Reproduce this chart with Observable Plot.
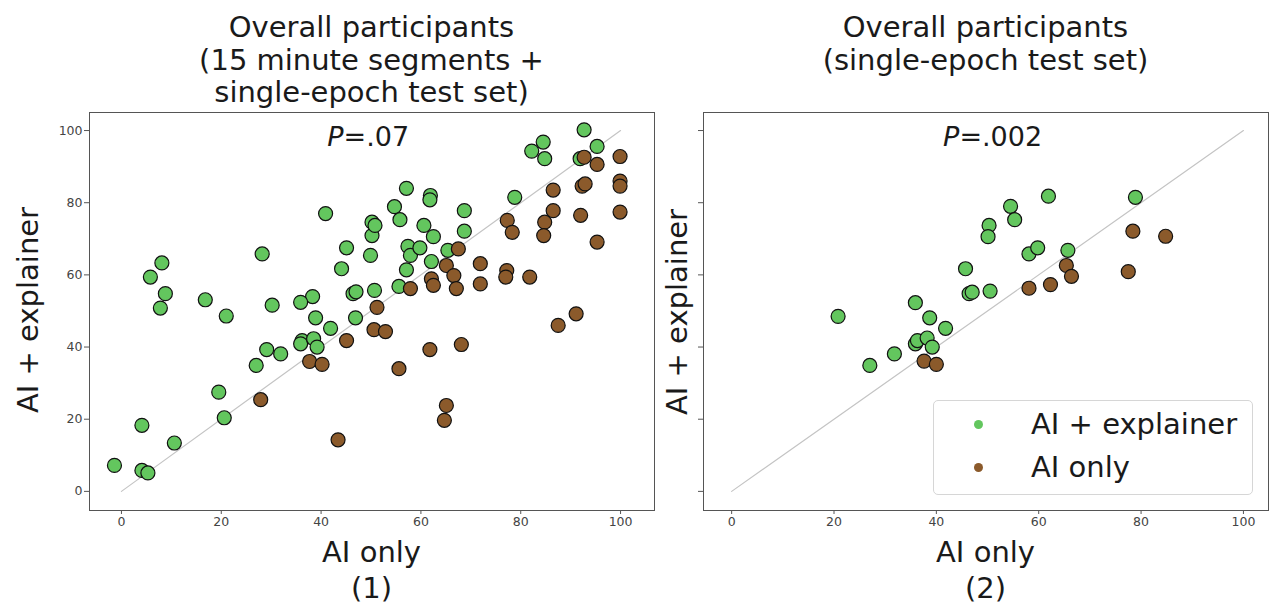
<!DOCTYPE html>
<html><head><meta charset="utf-8">
<script src="https://cdn.jsdelivr.net/npm/d3@7"></script>
<script src="https://cdn.jsdelivr.net/npm/@observablehq/plot@0.6"></script>
<style>
body{margin:0;background:#fff;font-family:"DejaVu Sans",sans-serif;}
#wrap{position:relative;width:1275px;height:605px;overflow:hidden;background:#fff;}
.lbl{position:absolute;white-space:nowrap;color:#1a1a1a;font-size:29px;line-height:29px;transform:translate(-50%,-50%);}
.rot{transform:translate(-50%,-50%) rotate(-90deg);}
.panel{position:absolute;top:0;}
#legend{position:absolute;left:933px;top:400px;width:320px;height:95px;box-sizing:border-box;border:1px solid #d6d6d6;border-radius:5px;background:rgba(255,255,255,0.85);}
.li{position:absolute;left:0;font-size:29px;line-height:29px;color:#1a1a1a;white-space:nowrap;}
.sw{position:absolute;width:9px;height:9px;border-radius:50%;}
</style></head><body><div id="wrap"></div>
<script>
// ---------- data ----------
const tickValues = [0, 20, 40, 60, 80, 100];
const seriesNames = ["AI + explainer", "AI only"];
const seriesColors = ["#63C65E", "#8B5A2B"];
const panelTitles = [["Overall participants", "(15 minute segments +", "single-epoch test set)"], ["Overall participants", "(single-epoch test set)"]];
const panelTags = ["(1)", "(2)"];
const pValues = [".07", ".002"];

// Panel 1: [AI only, AI + explainer]
const p1Explainer = [
  [40.9,77.0],[28.2,65.8],[8.1,63.3],[5.8,59.4],[8.8,54.8],[7.8,50.8],[16.8,53.1],[45.1,67.5],
  [44.1,61.7],[49.9,65.4],[50.2,70.9],[50.2,74.6],[50.8,73.7],[46.4,54.8],[47.0,55.3],[50.7,55.7],
  [38.3,54.0],[35.9,52.4],[30.2,51.6],[92.7,100.2],[84.5,96.8],[82.2,94.3],[84.8,92.2],[95.3,95.6],
  [91.9,92.2],[78.8,81.5],[57.1,84.0],[61.9,82.0],[61.8,80.8],[54.7,78.9],[55.8,75.3],[68.7,77.8],
  [68.7,72.1],[60.6,73.7],[62.5,70.6],[57.4,67.9],[57.9,65.4],[59.8,67.5],[62.1,63.7],[65.4,66.8],
  [57.1,61.4],[55.6,56.8],[21.0,48.6],[38.9,48.1],[41.9,45.2],[46.9,48.1],[36.2,41.8],[35.9,40.9],
  [38.5,42.3],[39.2,40.0],[29.1,39.3],[31.9,38.1],[27.0,34.9],[19.5,27.5],[20.6,20.4],[4.1,18.3],
  [10.6,13.4],[-1.4,7.2],[4.1,5.8],[5.3,5.1]
];
const p1Only = [
  [92.7,92.6],[95.3,90.6],[99.9,92.8],[99.9,86.0],[99.9,84.6],[92.3,84.6],[92.9,85.2],[86.5,83.5],
  [86.5,77.8],[92.0,76.5],[99.9,77.4],[95.3,69.1],[84.8,74.6],[84.6,70.9],[77.3,75.1],[78.3,71.8],
  [67.5,67.2],[65.1,62.6],[66.6,59.8],[62.1,58.9],[62.5,57.1],[67.1,56.2],[71.9,63.1],[71.9,57.5],
  [77.2,61.2],[77.0,59.4],[81.8,59.4],[57.9,56.2],[51.2,51.0],[50.6,44.8],[52.9,44.3],[45.1,41.8],
  [37.7,36.0],[40.2,35.2],[27.9,25.4],[43.4,14.3],[61.8,39.3],[68.1,40.7],[55.6,34.0],[65.1,23.8],
  [64.7,19.7],[87.5,46.0],[91.1,49.2]
];
// Panel 2
const p2Explainer = [
  [20.8,48.5],[27.0,34.9],[31.8,38.1],[35.9,52.3],[35.9,40.9],[36.3,41.8],[38.7,48.1],[38.2,42.5],
  [39.2,40.0],[41.8,45.2],[45.7,61.7],[46.4,54.8],[47.0,55.2],[50.3,73.7],[50.1,70.6],[50.5,55.5],
  [54.5,79.0],[55.3,75.3],[61.9,81.8],[78.9,81.5],[58.1,65.8],[59.8,67.5],[65.7,66.8]
];
const p2Only = [
  [37.6,36.1],[40.0,35.2],[65.4,62.6],[66.4,59.6],[58.1,56.3],[62.3,57.3],[78.4,72.1],[84.8,70.7],[77.5,60.9]
];
const diagonal = [0, 100];

// ---------- drawing ----------
const wrap = document.getElementById("wrap");

function panel({expl, only, width, mL, mR, xDomain, yLabels, pText}) {
  return Plot.plot({
    width, height: 560,
    marginLeft: mL, marginRight: mR, marginTop: 112, marginBottom: 50,
    x: {domain: xDomain, label: null},
    y: {domain: [-5.3, 105], label: null},
    style: {fontFamily: "DejaVu Sans", background: "transparent", color: "#333"},
    marks: [
      Plot.axisX({ticks: tickValues, tickSize: 4, tickPadding: 3, fontSize: 12.5, fill: "#444", stroke: "#555"}),
      Plot.axisY({ticks: tickValues, tickSize: 5, tickPadding: 2, fontSize: 12.5, fill: "#444", stroke: "#555",
                  tickFormat: yLabels ? (d => String(d)) : (() => "")}),
      Plot.line(diagonal, {x: d => d, y: d => d, stroke: "#c4c4c4", strokeWidth: 1.2}),
      Plot.dot(expl, {x: d => d[0], y: d => d[1], r: 7, fill: seriesColors[0], stroke: "#111", strokeWidth: 1.2}),
      Plot.dot(only, {x: d => d[0], y: d => d[1], r: 7, fill: seriesColors[1], stroke: "#111", strokeWidth: 1.2}),
      Plot.text(["P"], {x: () => 44.5, y: () => 98, text: d => d, textAnchor: "end", fontStyle: "italic", fontSize: 27, fill: "#1a1a1a"}),
      Plot.text([pText], {x: () => 44.5, y: () => 98, text: d => "=" + d, textAnchor: "start", fontSize: 27, fill: "#1a1a1a"}),
      Plot.frame({stroke: "#555", strokeWidth: 1})
    ]
  });
}

const left = document.createElement("div");
left.className = "panel"; left.style.left = "0px";
left.appendChild(panel({expl: p1Explainer, only: p1Only, width: 680, mL: 89, mR: 26, xDomain: [-6.4, 106.8], yLabels: true, pText: pValues[0]}));
wrap.appendChild(left);

const right = document.createElement("div");
right.className = "panel"; right.style.left = "680px";
right.appendChild(panel({expl: p2Explainer, only: p2Only, width: 595, mL: 23, mR: 7, xDomain: [-5.5, 104.9], yLabels: false, pText: pValues[1]}));
wrap.appendChild(right);

function label(text, cx, cy, rot) {
  const d = document.createElement("div");
  d.className = "lbl" + (rot ? " rot" : "");
  d.textContent = text;
  d.style.left = cx + "px"; d.style.top = cy + "px";
  wrap.appendChild(d);
}
const titleRows = [27, 59.5, 91.5];
const centers = [371.5, 985.5];
panelTitles.forEach((lines, i) => lines.forEach((t, j) => label(t, centers[i], titleRows[j])));
centers.forEach((cx, i) => { label("AI only", cx, 552); label(panelTags[i], cx, 588); });
label("AI + explainer", 27.5, 310, true);
label("AI + explainer", 676.5, 312, true);

// legend
const lg = document.createElement("div"); lg.id = "legend";
seriesNames.forEach((n, i) => {
  const cy = [23, 66][i];
  const sw = document.createElement("div"); sw.className = "sw";
  sw.style.background = seriesColors[i];
  sw.style.left = (977 - 933 - 4.5) + "px"; sw.style.top = (cy - 4.5) + "px";
  lg.appendChild(sw);
  const t = document.createElement("div"); t.className = "li"; t.textContent = n;
  t.style.left = (1030 - 933) + "px"; t.style.top = (cy - 14.5) + "px";
  lg.appendChild(t);
});
wrap.appendChild(lg);
</script></body></html>
